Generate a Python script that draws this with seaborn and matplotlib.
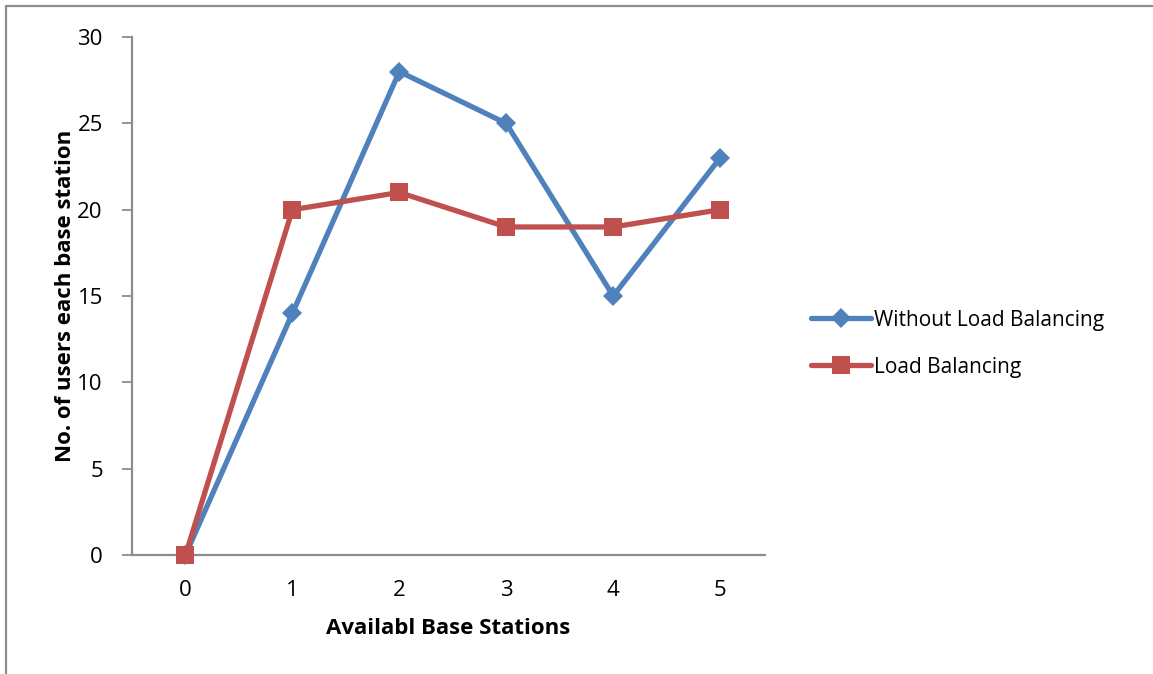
import matplotlib
matplotlib.use("Agg")
import matplotlib.pyplot as plt
from matplotlib.lines import Line2D
import seaborn as sns
import pandas as pd

stations = [0, 1, 2, 3, 4, 5]
without_lb = [0, 14, 28, 25, 15, 23]
with_lb = [0, 20, 21, 19, 19, 20]
series_names = ["Without Load Balancing", "Load Balancing"]
y_ticks = [0, 5, 10, 15, 20, 25, 30]

df = pd.concat([
    pd.DataFrame({"station": stations, "users": without_lb, "series": series_names[0]}),
    pd.DataFrame({"station": stations, "users": with_lb, "series": series_names[1]}),
])

sns.set_theme(style="white")
plt.rcParams["font.family"] = ["Open Sans", "DejaVu Sans"]
plt.rcParams["text.color"] = "black"
plt.rcParams["axes.labelcolor"] = "black"
plt.rcParams["xtick.color"] = "black"
plt.rcParams["ytick.color"] = "black"

fig = plt.figure(figsize=(11.53, 6.74), dpi=100)
ax = fig.add_axes([0.1145, 0.1766, 0.549, 0.7684])

palette = {series_names[0]: "#4F81BD", series_names[1]: "#C0504D"}
markers = {series_names[0]: "D", series_names[1]: "s"}
sizes_ms = {series_names[0]: 10.5, series_names[1]: 13}

for name in series_names:
    sub = df[df["series"] == name]
    sns.lineplot(data=sub, x="station", y="users", ax=ax, color=palette[name],
                 marker=markers[name], markersize=sizes_ms[name], markeredgewidth=0,
                 linewidth=3.8, label=name, clip_on=False, zorder=3)

ax.set_xlim(-0.5, 5.42)
ax.set_ylim(0, 30)
ax.set_xticks(stations)
ax.set_yticks(y_ticks)
ax.tick_params(axis="y", direction="out", length=7, width=1.3, color="#8c8c8c",
               labelcolor="black", labelsize=16, pad=14, left=True)
ax.tick_params(axis="x", length=0, labelsize=16, pad=18, labelcolor="black")
for s in ["top", "right"]:
    ax.spines[s].set_visible(False)
for s in ["left", "bottom"]:
    ax.spines[s].set_color("#8c8c8c")
    ax.spines[s].set_linewidth(1.6)

ax.set_xlabel("Availabl Base Stations", fontsize=16, fontweight="bold", labelpad=12,
              color="black")
ax.set_ylabel("No. of users each base station", fontsize=16, fontweight="bold", labelpad=1,
              color="black")

ax.legend(loc="center left", bbox_to_anchor=(0.696, 0.49), bbox_transform=fig.transFigure,
          frameon=False, fontsize=15, handlelength=2.9, handletextpad=0.15,
          labelspacing=1.25, borderaxespad=0, labelcolor="black")

# chart frame
fig.add_artist(Line2D([0.0055, 0.0055], [0.0, 0.991], transform=fig.transFigure,
                      color="#8c8c8c", linewidth=1.6))
fig.add_artist(Line2D([0.0055, 1.0], [0.991, 0.991], transform=fig.transFigure,
                      color="#8c8c8c", linewidth=1.6))

fig.savefig("out.png", dpi=100)
